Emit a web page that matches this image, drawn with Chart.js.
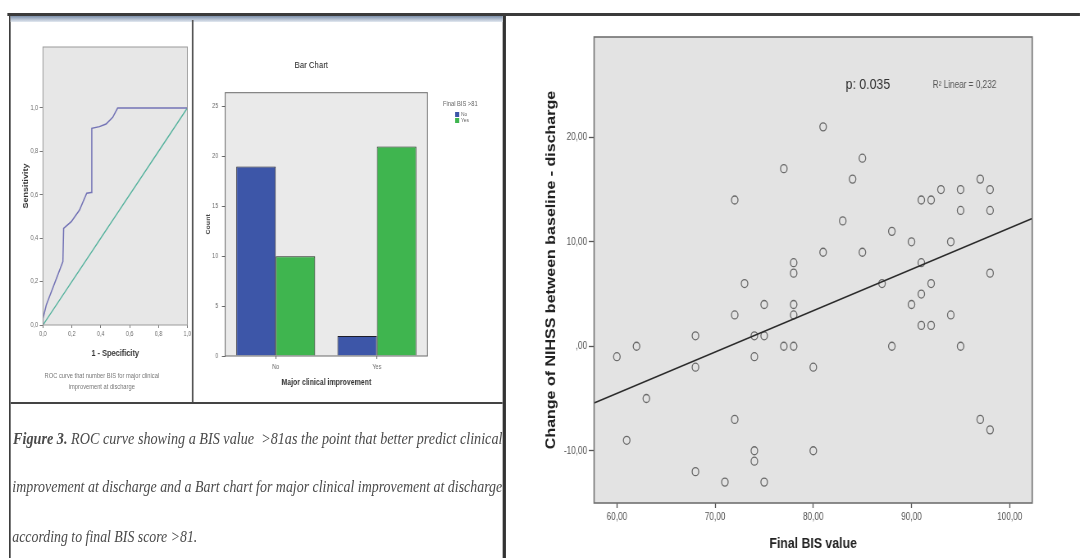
<!DOCTYPE html>
<html>
<head>
<meta charset="utf-8">
<script src="https://cdn.jsdelivr.net/npm/chart.js@4.4.1/dist/chart.umd.min.js"></script>
<style>
  html, body { margin: 0; padding: 0; background: #fff; overflow: hidden; width: 1080px; height: 558px; }
  #page { position: absolute; left: 0; top: 0; height: 558px; transform-origin: 0 0; }
  .abs { position: absolute; }
  canvas { position: absolute; }
  .txt { position: absolute; white-space: nowrap; }
</style>
</head>
<body>
<div id="page"></div>
<script>
// ---------- ROC curve ----------
const rocFpr = [0, 0, 0.023, 0.138, 0.143, 0.196, 0.253, 0.303, 0.333, 0.338, 0.391, 0.437, 0.483, 0.517, 1.0];
const rocTpr = [0, 0.03, 0.092, 0.292, 0.445, 0.476, 0.530, 0.607, 0.610, 0.906, 0.914, 0.926, 0.957, 1.0, 1.0];
const refX = [0, 1];
const refY = [0, 1];
const rocTickValues = [0, 0.2, 0.4, 0.6, 0.8, 1.0];
const rocTickLabels = ['0,0', '0,2', '0,4', '0,6', '0,8', '1,0'];

// ---------- Bar chart ----------
const barCategories = ['No', 'Yes'];
const barSeriesNames = ['No', 'Yes'];
const barCountsNo = [19, 2];
const barCountsYes = [10, 21];
const barTickValues = [0, 5, 10, 15, 20, 25];

// ---------- Scatter: final BIS vs NIHSS change ----------
const bisFinal = [81, 77, 85, 84, 72, 91, 92, 93, 95, 97, 98, 95, 98, 83, 88, 90, 94, 81, 85, 78,
                  78, 91, 98, 73, 87, 92, 91, 75, 78, 90, 72, 78, 94, 91, 92, 68, 74, 75, 62, 77,
                  78, 88, 95, 60, 74, 68, 80, 63, 72, 97, 98, 61, 74, 74, 80, 68, 71, 75];
const nihssChange = [21, 17, 18, 16, 14, 14, 14, 15, 15, 16, 15, 13, 13, 12, 11, 10, 10, 9, 9, 8,
                     7, 8, 7, 6, 6, 6, 5, 4, 4, 4, 3, 3, 3, 2, 2, 1, 1, 1, 0, 0,
                     0, 0, 0, -1, -1, -2, -2, -5, -7, -7, -8, -9, -10, -11, -10, -12, -13, -13];
const fitX = [57.68, 102.29];
const fitY = [-5.44, 12.24];
const scatterXTicks = [60, 70, 80, 90, 100];
const scatterXLabels = ['60,00', '70,00', '80,00', '90,00', '100,00'];
const scatterYTicks = [-10, 0, 10, 20];
const scatterYLabels = ['-10,00', ',00', '10,00', '20,00'];
const statP = 'p: 0.035';
const statR2 = 'R\u00B2 Linear = 0,232';

// ---------- layout helpers (page is drawn narrow-scaled horizontally) ----------
const K = 0.82;
const page = document.getElementById('page');
page.style.width = (1080 / K) + 'px';
page.style.transform = 'scaleX(' + K + ')';

Chart.defaults.font.family = '"Liberation Sans", Arial, sans-serif';
Chart.defaults.color = '#555';

function rect(x1, y1, x2, y2, bg) {
  const d = document.createElement('div');
  d.className = 'abs';
  d.style.left = (x1 / K) + 'px';
  d.style.top = y1 + 'px';
  d.style.width = ((x2 - x1) / K) + 'px';
  d.style.height = (y2 - y1) + 'px';
  d.style.background = bg;
  page.appendChild(d);
  return d;
}

function text(str, x, cy, css, align) {
  const d = document.createElement('div');
  d.className = 'txt';
  d.innerHTML = str;
  d.style.cssText += css;
  page.appendChild(d);
  const h = d.offsetHeight, w = d.offsetWidth;
  d.style.top = (cy - h / 2) + 'px';
  if (align === 'center') d.style.left = (x / K - w / 2) + 'px';
  else d.style.left = (x / K) + 'px';
  return d;
}

function fitWidth(el, x, targetW) {
  const w = el.offsetWidth;
  el.style.transformOrigin = '0 0';
  el.style.transform = 'scaleX(' + ((targetW / K) / w) + ')';
  el.style.left = (x / K) + 'px';
}

// background fill + frame around the plotting area
const plotFrame = {
  id: 'plotFrame',
  beforeDraw(chart, args, opts) {
    const { ctx, chartArea: a } = chart;
    ctx.save();
    ctx.fillStyle = opts.fill;
    ctx.fillRect(a.left, a.top, a.width, a.height);
    ctx.restore();
  },
  afterDatasetsDraw(chart, args, opts) {
    const { ctx, chartArea: a } = chart;
    ctx.save();
    ctx.strokeStyle = opts.stroke;
    ctx.lineWidth = opts.width;
    ctx.strokeRect(a.left, a.top, a.width, a.height);
    ctx.restore();
  }
};

// text notes placed at data coordinates
const notes = {
  id: 'notes',
  afterDatasetsDraw(chart, args, opts) {
    const { ctx, scales } = chart;
    ctx.save();
    ctx.textAlign = 'center';
    ctx.textBaseline = 'middle';
    (opts.items || []).forEach(it => {
      ctx.font = it.font;
      ctx.fillStyle = it.color;
      ctx.fillText(it.text, scales.x.getPixelForValue(it.x), scales.y.getPixelForValue(it.y));
    });
    ctx.restore();
  }
};

function placeChart(box, area, cfg, titleH) {
  const w = Math.round((box.r - box.l) / K);
  const h = box.b - box.t;
  const cv = document.createElement('canvas');
  cv.width = w; cv.height = h;
  cv.style.left = (box.l / K) + 'px';
  cv.style.top = box.t + 'px';
  page.appendChild(cv);
  const o = cfg.options;
  o.responsive = false;
  o.animation = false;
  o.devicePixelRatio = 1;
  o.layout = { padding: { left: 0, top: area.t - box.t - (titleH || 0), right: w - (area.r - box.l) / K, bottom: 0 } };
  o.scales.x.afterFit = s => { s.height = box.b - area.b; };
  o.scales.y.afterFit = s => { s.width = (area.l - box.l) / K; };
  return new Chart(cv, cfg);
}

// ---------- frame decoration of the left composite ----------
rect(7, 13, 1080, 16, '#3b3b3b');
rect(9, 16, 11, 558, '#3a3a3a');
rect(503, 16, 506, 558, '#333');
const band = rect(11, 16, 503, 22, '#9fb1c7');
band.style.background = 'linear-gradient(#7d90aa, #e3e9f1)';
rect(192, 20, 193.2, 403, '#555');
rect(11, 402, 503, 404, '#444');

// ---------- ROC chart ----------
placeChart({ l: 11, t: 24, r: 193, b: 362 }, { l: 43.3, t: 47, r: 188.3, b: 325 }, {
  type: 'scatter',
  data: {
    datasets: [
      { label: 'ROC', data: rocFpr.map((x, i) => ({ x, y: rocTpr[i] })), showLine: true,
        borderColor: '#7474b6', borderWidth: 1.5, pointRadius: 0, tension: 0 },
      { label: 'Reference', data: refX.map((x, i) => ({ x, y: refY[i] })), showLine: true,
        borderColor: '#56b39e', borderWidth: 1.3, pointRadius: 0 }
    ]
  },
  options: {
    plugins: { legend: { display: false }, tooltip: { enabled: false },
      plotFrame: { fill: '#e7e7e7', stroke: '#9a9a9a', width: 1 } },
    scales: {
      x: { type: 'linear', min: 0, max: 1,
        afterBuildTicks: s => { s.ticks = rocTickValues.map(v => ({ value: v })); },
        ticks: { callback: (v, i) => rocTickLabels[i], font: { size: 6.5 }, color: '#666', padding: 2, maxRotation: 0, autoSkip: false },
        grid: { drawOnChartArea: false, tickLength: 3, tickColor: '#777' }, border: { display: false },
        title: { display: true, text: '1 - Specificity', font: { size: 9, weight: 'bold' }, color: '#333', padding: { top: 0, bottom: 2.6 } } },
      y: { type: 'linear', min: 0, max: 1.281,
        afterBuildTicks: s => { s.ticks = rocTickValues.map(v => ({ value: v })); },
        ticks: { callback: (v, i) => rocTickLabels[i], font: { size: 6.5 }, color: '#666', padding: 2, autoSkip: false },
        grid: { drawOnChartArea: false, tickLength: 4, tickColor: '#777' }, border: { display: false },
        title: { display: true, text: 'Sensitivity', font: { size: 9, weight: 'bold' }, color: '#333', padding: { top: 12.9, bottom: 0 } } }
    }
  },
  plugins: [plotFrame]
});
text('ROC curve that number BIS for major clinical', 102, 375, 'font: 7px "Liberation Sans", Arial; color:#777;', 'center');
text('improvement at discharge', 102, 386, 'font: 7px "Liberation Sans", Arial; color:#777;', 'center');

// ---------- Bar chart ----------
placeChart({ l: 195, t: 50, r: 500, b: 395 }, { l: 225, t: 92.7, r: 427.3, b: 356 }, {
  type: 'bar',
  data: {
    labels: barCategories,
    datasets: [
      { label: barSeriesNames[0], data: barCountsNo, backgroundColor: '#3d56a8', borderColor: '#1e1e2a', borderWidth: 1 },
      { label: barSeriesNames[1], data: barCountsYes, backgroundColor: '#3fb54f', borderColor: '#1e2a1e', borderWidth: 1 }
    ]
  },
  options: {
    datasets: { bar: { categoryPercentage: 0.78, barPercentage: 1.0 } },
    plugins: {
      legend: { display: false }, tooltip: { enabled: false },
      title: { display: true, text: 'Bar Chart', font: { size: 9.5, weight: 'normal' }, color: '#222', padding: { top: 10.3, bottom: 21.3 } },
      plotFrame: { fill: '#eaeaea', stroke: '#6a6a6a', width: 1 }
    },
    scales: {
      x: { grid: { drawOnChartArea: false, offset: false, tickLength: 3, tickColor: '#666' }, border: { display: false },
        ticks: { font: { size: 6.5 }, color: '#666', padding: 4.5 },
        title: { display: true, text: 'Major clinical improvement', font: { size: 8.5, weight: 'bold' }, color: '#333', padding: { top: 0, bottom: 6.9 } } },
      y: { min: 0, max: 26.4,
        afterBuildTicks: s => { s.ticks = barTickValues.map(v => ({ value: v })); },
        ticks: { font: { size: 6.5 }, color: '#666', padding: 4.5, autoSkip: false },
        grid: { drawOnChartArea: false, tickLength: 4, tickColor: '#666' }, border: { display: false },
        title: { display: true, text: 'Count', font: { size: 7, weight: 'bold' }, color: '#444', padding: { top: 11.6, bottom: 0 } } }
    }
  },
  plugins: [plotFrame]
}, 9.5 * 1.2 + 10.3 + 21.3);

// legend of the bar chart
text('Final BIS &gt;81', 443, 103, 'font: 7px "Liberation Sans", Arial; color:#666;', 'left');
rect(455.5, 111.5, 459.5, 116.5, '#3d56a8');
rect(455.5, 117.5, 459.5, 122.5, '#3fb54f');
text(barSeriesNames[0], 461, 114, 'font: 6px "Liberation Sans", Arial; color:#666;', 'left');
text(barSeriesNames[1], 461, 120, 'font: 6px "Liberation Sans", Arial; color:#666;', 'left');

// ---------- caption ----------
const capCss = 'font: italic 16px "Liberation Serif", "DejaVu Serif", serif; color:#4a4a4a;';
const c1 = text('<b>Figure 3.</b> ROC curve showing a BIS value &nbsp;&gt;81as the point that better predict clinical', 12, 439, capCss, 'left');
const c2 = text('improvement at discharge and a Bart chart for major clinical improvement at discharge', 12, 487, capCss, 'left');
const c3 = text('according to final BIS score &gt;81.', 12, 537, capCss, 'left');
fitWidth(c1, 13, 489);
fitWidth(c2, 12, 490);
fitWidth(c3, 12, 185);

// ---------- scatter chart ----------
placeChart({ l: 520, t: 20, r: 1080, b: 558 }, { l: 594.2, t: 37, r: 1032.3, b: 503 }, {
  type: 'scatter',
  data: {
    datasets: [
      { label: 'Linear fit', data: fitX.map((x, i) => ({ x, y: fitY[i] })), showLine: true,
        borderColor: '#2a2a2a', borderWidth: 1.6, pointRadius: 0 },
      { label: 'Patients', data: bisFinal.map((x, i) => ({ x, y: nihssChange[i] })),
        pointStyle: 'circle', pointRadius: 4, borderColor: '#6a6a6a', backgroundColor: 'rgba(0,0,0,0)', borderWidth: 1.3 }
    ]
  },
  options: {
    plugins: {
      legend: { display: false }, tooltip: { enabled: false },
      plotFrame: { fill: '#e3e3e3', stroke: '#707070', width: 1.6 },
      notes: { items: [
        { text: statP, x: 85.56, y: 25.0, font: '15px "Liberation Sans", Arial', color: '#333' },
        { text: statR2, x: 95.4, y: 25.0, font: '10px "Liberation Sans", Arial', color: '#555' }
      ] }
    },
    scales: {
      x: { type: 'linear', min: 57.68, max: 102.29,
        afterBuildTicks: s => { s.ticks = scatterXTicks.map(v => ({ value: v })); },
        ticks: { callback: (v, i) => scatterXLabels[i], font: { size: 10 }, color: '#555', padding: 3, maxRotation: 0, autoSkip: false },
        grid: { drawOnChartArea: false, tickLength: 5, tickColor: '#555', tickWidth: 1.3 }, border: { display: false },
        title: { display: true, text: 'Final BIS value', font: { size: 15, weight: 'bold' }, color: '#222', padding: { top: 0, bottom: 5 } } },
      y: { type: 'linear', min: -15.0, max: 29.6,
        afterBuildTicks: s => { s.ticks = scatterYTicks.map(v => ({ value: v })); },
        ticks: { callback: (v, i) => scatterYLabels[i], font: { size: 10 }, color: '#555', padding: 2, autoSkip: false },
        grid: { drawOnChartArea: false, tickLength: 6.5, tickColor: '#555', tickWidth: 1.3 }, border: { display: false },
        title: { display: true, text: 'Change of NIHSS between baseline - discharge', font: { size: 16, weight: 'bold' }, color: '#222', padding: { top: 29.4, bottom: 0 } } }
    }
  },
  plugins: [plotFrame, notes]
});
</script>
</body>
</html>
